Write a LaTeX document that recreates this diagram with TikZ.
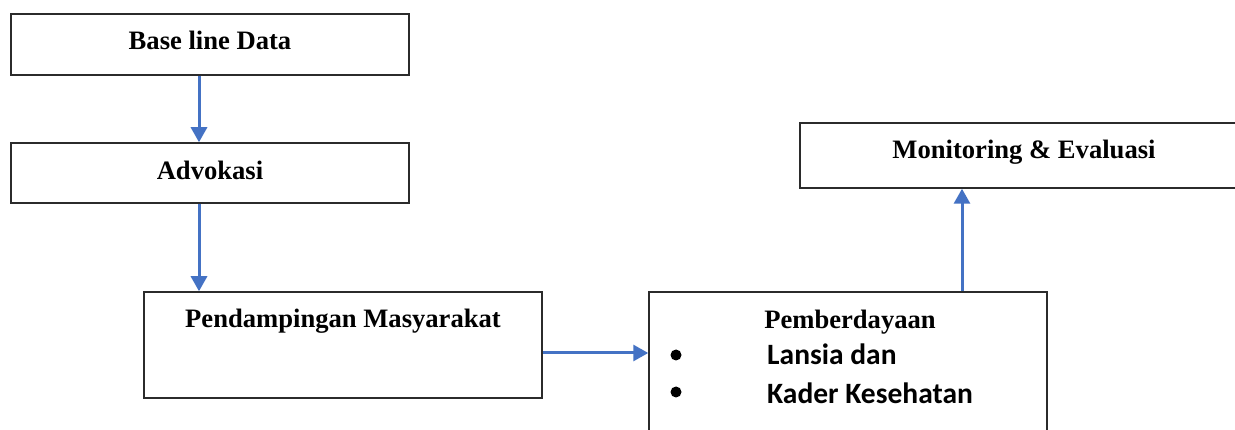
\documentclass[tikz,border=0pt]{standalone}
\usepackage{fontspec}
\setmainfont{Liberation Serif}
\newfontfamily\bodyfont{Carlito}
\usetikzlibrary{arrows.meta}
\definecolor{flowblue}{HTML}{4472C4}
\definecolor{edge}{HTML}{2B2B2B}
\tikzset{
  stagebox/.style={draw=edge, line width=1.5pt, fill=white, rectangle, inner sep=0pt},
  title/.style={font=\bfseries\fontsize{26.6}{30}\selectfont, inner sep=0pt, anchor=base},
  item/.style={font=\bodyfont\bfseries\fontsize{29.5}{33}\selectfont, inner sep=0pt, anchor=base west},
  dot/.style={circle, fill=black, minimum size=11pt, inner sep=0pt},
  flow/.style={draw=flowblue, line width=3pt, -{Triangle[length=15pt,width=16pt]}}
}
\begin{document}
\begin{tikzpicture}[x=1pt, y=-1pt]
\useasboundingbox (0,0) rectangle (1235,430);
\clip (0,0) rectangle (1235,430);
\fill[white] (0,0) rectangle (1235,430);

% boxes
\node[stagebox, minimum width=398pt, minimum height=61pt] (b1) at (210,44.5) {};
\node[stagebox, minimum width=398pt, minimum height=60pt] (b2) at (210,173) {};
\node[stagebox, minimum width=398pt, minimum height=106pt] (b3) at (343,345) {};
\node[stagebox, minimum width=398pt, minimum height=168pt] (b4) at (848,376) {};
\node[stagebox, minimum width=460pt, minimum height=65pt] (b5) at (1030,155.5) {};

% labels
\node[title] (t1) at (210,50) {Base line Data};
\node[title] (t2) at (210,180) {Advokasi};
\node[title] (t3) at (343,328) {Pendampingan Masyarakat};
\node[title] (t4) at (850,329) {Pemberdayaan};
\node[title] (t5) at (1024,159) {Monitoring \& Evaluasi};

\node[dot] (d1) at (676,355) {};
\node[dot] (d2) at (676,392) {};
\node[item] (i1) at (767,365) {Lansia dan};
\node[item] (i2) at (767,403) {Kader Kesehatan};

% connectors
\coordinate (xa) at (199,0);
\coordinate (ya) at (0,353);
\coordinate (xb) at (962,0);
\draw[flow] (b1.south -| xa) -- (b2.north -| xa);
\draw[flow] (b2.south -| xa) -- (b3.north -| xa);
\draw[flow] (b3.east |- ya) -- (b4.west |- ya);
\draw[flow] (b4.north -| xb) -- (b5.south -| xb);
\end{tikzpicture}
\end{document}
